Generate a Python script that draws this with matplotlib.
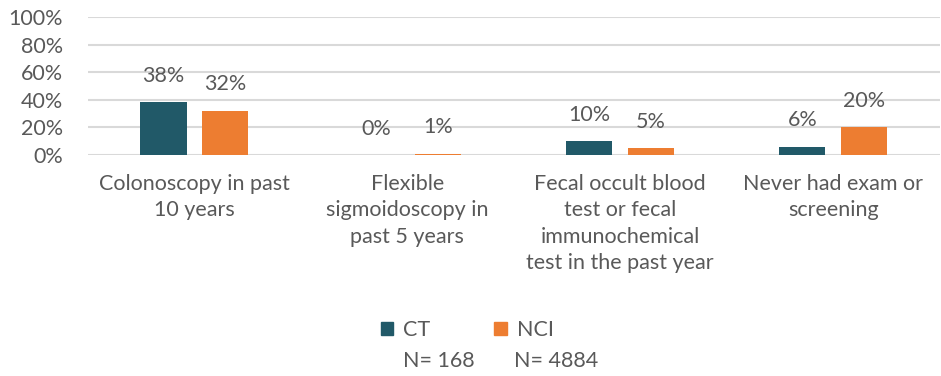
import matplotlib

matplotlib.use("Agg")
import matplotlib.pyplot as plt
from matplotlib.patches import Patch
import numpy as np

plt.rcParams["font.family"] = ["Lato", "DejaVu Sans"]

categories = [
    "Colonoscopy in past\n10 years",
    "Flexible\nsigmoidoscopy in\npast 5 years",
    "Fecal occult blood\ntest or fecal\nimmunochemical\ntest in the past year",
    "Never had exam or\nscreening",
]
ct_values = [38, 0, 10, 6]
nci_values = [32, 1, 5, 20]
series_names = ["CT", "NCI"]
sample_sizes = ["N= 168", "N= 4884"]
y_ticks = [0, 20, 40, 60, 80, 100]

CT_COLOR = "#215968"
NCI_COLOR = "#ED7D31"
TEXT_COLOR = "#595959"
FONT_SIZE = 15.5

fig = plt.figure(figsize=(9.41, 3.76), dpi=100)
ax = fig.add_axes([0.0935, 0.588, 0.905, 0.367])

x = np.arange(len(categories))
width = 0.217
offset = 0.145
ct_bars = ax.bar(x - offset, ct_values, width, color=CT_COLOR, zorder=3)
nci_bars = ax.bar(x + offset, nci_values, width, color=NCI_COLOR, zorder=3)

for bars, values in ((ct_bars, ct_values), (nci_bars, nci_values)):
    for bar, value in zip(bars, values):
        ax.annotate(
            f"{value}%",
            (bar.get_x() + bar.get_width() / 2, bar.get_height()),
            xytext=(0, 19),
            textcoords="offset points",
            ha="center",
            va="center",
            fontsize=FONT_SIZE,
            color=TEXT_COLOR,
        )

ax.set_xlim(-0.5, len(categories) - 0.5)
ax.set_ylim(0, 100)
ax.set_yticks(y_ticks)
ax.set_yticklabels([f"{t}%" for t in y_ticks])
ax.set_xticks(x)
ax.set_xticklabels(categories, linespacing=1.38)
ax.tick_params(axis="y", length=0, pad=18, labelsize=FONT_SIZE, labelcolor=TEXT_COLOR)
ax.tick_params(axis="x", length=0, pad=14, labelsize=FONT_SIZE, labelcolor=TEXT_COLOR)
ax.grid(axis="y", color="#D9D9D9", linewidth=1.5, zorder=0)
ax.set_axisbelow(True)
for spine in ax.spines.values():
    spine.set_visible(False)

handles = [Patch(color=CT_COLOR), Patch(color=NCI_COLOR)]
fig.legend(
    handles,
    series_names,
    loc="center left",
    bbox_to_anchor=(0.393, 0.122),
    ncol=2,
    frameon=False,
    fontsize=FONT_SIZE,
    labelcolor=TEXT_COLOR,
    handlelength=0.6,
    handleheight=0.6,
    handletextpad=0.45,
    columnspacing=2.97,
    borderpad=0,
)
fig.text(0.428, 0.04, sample_sizes[0], fontsize=FONT_SIZE, color=TEXT_COLOR, va="center")
fig.text(0.546, 0.04, sample_sizes[1], fontsize=FONT_SIZE, color=TEXT_COLOR, va="center")

fig.savefig("out.png", dpi=100)
